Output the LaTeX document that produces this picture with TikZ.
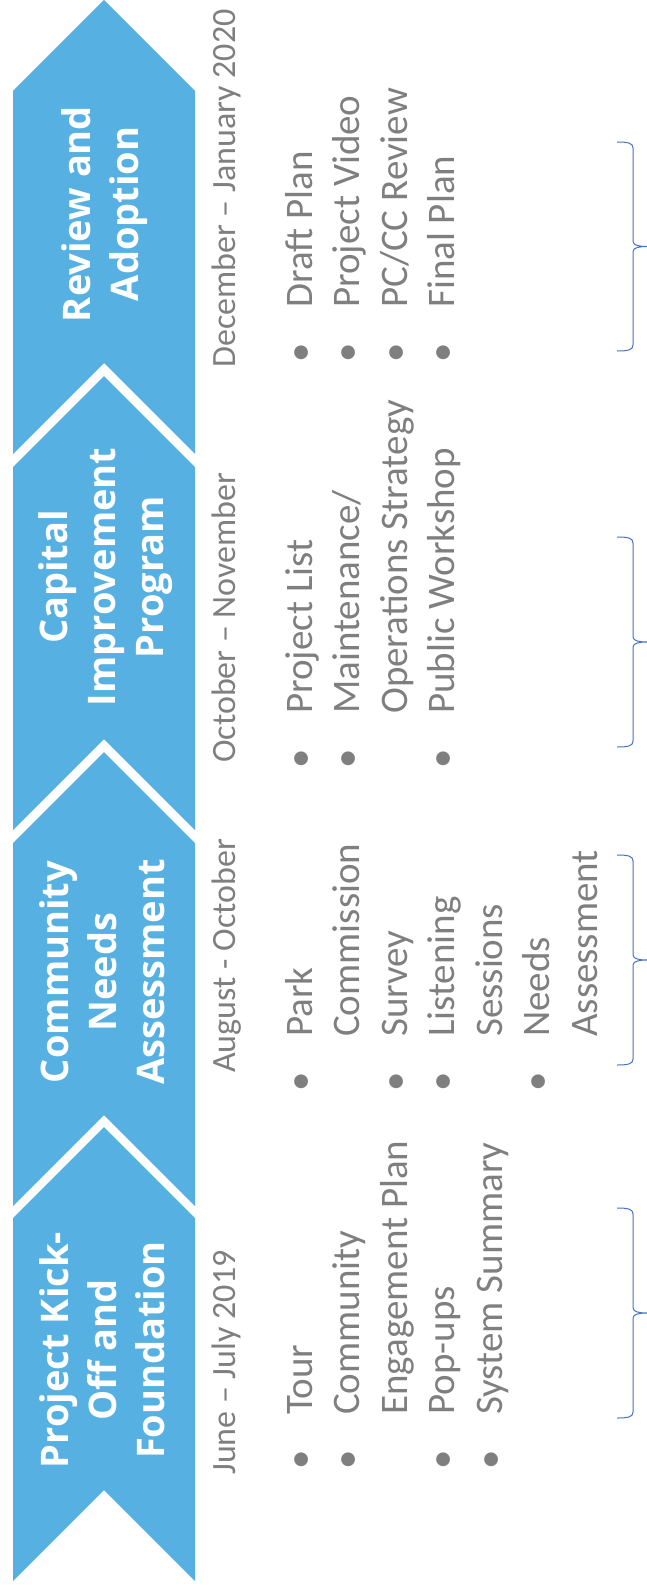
\documentclass[tikz,border=0pt]{standalone}
\usepackage{fontspec}
\usepackage{xcolor}
\usepackage{tikz}
\usetikzlibrary{positioning,calc}
\setmainfont{Carlito}
\newfontfamily\headfont{Open Sans}
\definecolor{chevblue}{RGB}{86,177,226}
\definecolor{itemgray}{RGB}{127,127,127}
\definecolor{bracecol}{RGB}{68,114,196}
\newcommand{\itembullet}{\makebox[55pt][l]{\textbullet}}

\begin{document}
\begin{tikzpicture}[x=1pt,y=-1pt,
  chevtext/.style={rotate=90, align=center, text=white, inner sep=0pt,
    font=\headfont\bfseries\fontsize{38}{48}\selectfont},
  datetext/.style={rotate=90, anchor=base west, text=itemgray, inner sep=0pt,
    font=\fontsize{34}{40}\selectfont},
  itemlist/.style={rotate=90, anchor=north west, text=itemgray, inner sep=0pt,
    font=\fontsize{39}{47.5}\selectfont},
  phasebrace/.style={draw=bracecol, line width=1pt}]
  \useasboundingbox (0,0) rectangle (647,1589);

  % Chevrons (point up, notch at the bottom)
  \foreach \s in {91,467,843,1218} {
    \fill[chevblue] (13,\s) -- (104,\s-91) -- (195,\s) -- (195,\s+363)
      -- (104,\s+272) -- (13,\s+363) -- cycle;
  }

  % Phase titles
  \node[chevtext] (phase1) at (105,214) {Review and\\Adoption};
  \node[chevtext] (phase2) at (106,577) {Capital\\Improvement\\Program};
  \node[chevtext] (phase3) at (102,972) {Community\\Needs\\Assessment};
  \node[chevtext] (phase4) at (102,1350) {Project Kick-\\Off and\\Foundation};

  % Dates
  \node[datetext] (date1) at (235,368) {December – January 2020};
  \node[datetext] (date2) at (235,763) {October – November};
  \node[datetext] (date3) at (235,1073) {August - October};
  \node[datetext] (date4) at (235,1475) {June – July 2019};

  % Tasks
  \node[itemlist] (tasks1) at (279,363) {\begin{tabular}{@{}l@{}l@{}}
    \itembullet & Draft Plan\\
    \itembullet & Project Video\\
    \itembullet & PC/CC Review\\
    \itembullet & Final Plan
  \end{tabular}};
  \node[itemlist] (tasks2) at (279,769) {\begin{tabular}{@{}l@{}l@{}}
    \itembullet & Project List\\
    \itembullet & Maintenance/\\
                & Operations Strategy\\
    \itembullet & Public Workshop
  \end{tabular}};
  \node[itemlist] (tasks3) at (279,1092) {\begin{tabular}{@{}l@{}l@{}}
    \itembullet & Park\\
                & Commission\\
    \itembullet & Survey\\
    \itembullet & Listening\\
                & Sessions\\
    \itembullet & Needs\\
                & Assessment
  \end{tabular}};
  \node[itemlist] (tasks4) at (279,1470) {\begin{tabular}{@{}l@{}l@{}}
    \itembullet & Tour\\
    \itembullet & Community\\
                & Engagement Plan\\
    \itembullet & Pop-ups\\
    \itembullet & System Summary
  \end{tabular}};

  % Braces (top/bottom)
  \foreach \t/\b in {142/351, 537/747, 855/1065, 1208/1418} {
    \pgfmathsetmacro{\m}{(\t+\b)/2}
    \draw[phasebrace] (617,\t) .. controls (628,\t) and (633,\t+1) .. (633,\t+6)
      -- (633,\m-5) .. controls (633,\m-1) and (640,\m) .. (647,\m)
      .. controls (640,\m) and (633,\m+1) .. (633,\m+5)
      -- (633,\b-6) .. controls (633,\b-1) and (628,\b) .. (617,\b);
  }
\end{tikzpicture}
\end{document}
